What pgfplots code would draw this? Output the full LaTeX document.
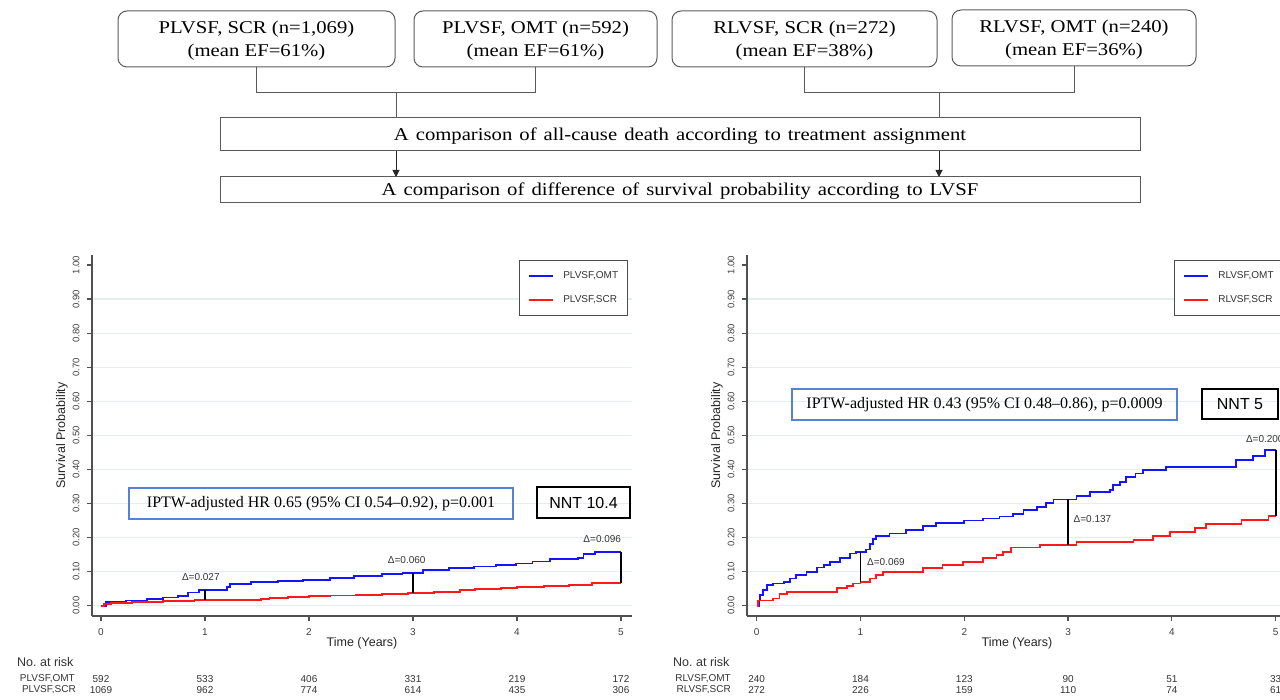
\documentclass[border=0pt]{standalone}
\usepackage{fontspec}
\setmainfont{Liberation Sans}
\newfontfamily\tnr{Liberation Serif}
\newfontfamily\tnrw[FakeStretch=1.15]{Liberation Serif}
\usepackage{pgfplots}
\pgfplotsset{compat=1.18}
\usetikzlibrary{arrows.meta}

\definecolor{kmblue}{RGB}{20,20,255}
\definecolor{kmred}{RGB}{255,25,25}
\definecolor{gridc}{RGB}{228,237,240}
\definecolor{boxblue}{RGB}{84,130,214}
\definecolor{axgray}{RGB}{80,80,80}
\definecolor{fcgray}{RGB}{90,90,90}

\pgfplotsset{
  kmaxis/.style={
    scale only axis, width=540pt, height=361pt, anchor=south west,
    ymin=-0.0302, ymax=1.0294,
    axis x line*=bottom, axis y line*=left,
    axis line style={axgray, line width=1.4pt, -},
    tick style={axgray, line width=1.2pt},
    major tick length=5pt, tick align=outside,
    xtick={0,1,2,3,4,5},
    ytick={0,0.1,0.2,0.3,0.4,0.5,0.6,0.7,0.8,0.9},
    extra y ticks={1}, extra y tick style={grid=none},
    ymajorgrids, grid style={gridc, line width=1.2pt},
    /pgf/number format/assume math mode=true,
    yticklabel style={rotate=90, anchor=south, yshift=4pt,
      font=\fontsize{9.5}{11}\selectfont, text=black!75,
      /pgf/number format/fixed, /pgf/number format/fixed zerofill,
      /pgf/number format/precision=2},
    xticklabel style={font=\fontsize{10}{12}\selectfont, text=black!75, yshift=-4pt},
    xlabel={Time (Years)}, ylabel={Survival Probability},
    label style={font=\fontsize{12.5}{14}\selectfont, text=black!85},
    xlabel style={at={(axis description cs:0.5,-0.075)}, anchor=center},
    ylabel style={at={(axis description cs:-0.0556,0.5)}, anchor=center},
    clip=false,
    legend style={at={(axis description cs:0.7907,0.9861)}, anchor=north west,
      draw=black!70, line width=1pt, font=\fontsize{10}{12}\selectfont,
      text=black!80, row sep=15.5pt, inner xsep=9pt, inner ysep=11.5pt,
      nodes={inner sep=0pt}, cells={anchor=west}},
    legend image code/.code={\draw[#1] (0pt,0pt) -- (24pt,0pt); \path (33pt,0pt);},
  },
  kmline/.style={line width=1.8pt, const plot},
  dline/.style={black, line width=1.8pt, forget plot},
}

\begin{document}
\begin{tikzpicture}[x=1pt,y=1pt]
\useasboundingbox (0,0) rectangle (1280,699);

%% flowchart
\begin{scope}[draw=fcgray, line width=1pt]
  \draw[rounded corners=9pt] (118,688) rectangle (395,632);
  \draw[rounded corners=9pt] (414,688) rectangle (657,632);
  \draw[rounded corners=9pt] (672,688) rectangle (937,632);
  \draw[rounded corners=9pt] (952,689) rectangle (1196,633);
  \draw (256.5,632) -- (256.5,606) -- (535.5,606) -- (535.5,632);
  \draw (396,606) -- (396,581);
  \draw (804.5,632) -- (804.5,606) -- (1074,606) -- (1074,633);
  \draw (939,606) -- (939,581);
  \draw (220,581) rectangle (1140,548);
  \draw (220,522) rectangle (1140,496);
\end{scope}
\draw[black!85, line width=1pt, -{Triangle[length=7pt,width=7pt]}] (396,548) -- (396,522);
\draw[black!85, line width=1pt, -{Triangle[length=7pt,width=7pt]}] (939,548) -- (939,522);
\begin{scope}[every node/.style={font=\tnrw\fontsize{18}{23}\selectfont, align=center}]
  \node at (256.5,658) {PLVSF, SCR (n=1,069)\\(mean EF=61\%)};
  \node at (535.5,658) {PLVSF, OMT (n=592)\\(mean EF=61\%)};
  \node at (804.5,658) {RLVSF, SCR (n=272)\\(mean EF=38\%)};
  \node at (1074,659) {RLVSF, OMT (n=240)\\(mean EF=36\%)};
  \node at (680,563) {\spaceskip=0.39em A comparison of all-cause death according to treatment assignment};
  \node at (680,507.5) {\spaceskip=0.39em A comparison of difference of survival probability according to LVSF};
\end{scope}

%% left KM plot
\begin{axis}[kmaxis, at={(92pt,83pt)}, xmin=-0.0865, xmax=5.106]
  \addplot[kmblue, kmline] coordinates {
    (0,0) (0.045,0.010) (0.24,0.015) (0.44,0.020) (0.60,0.024) (0.74,0.029)
    (0.84,0.039) (0.94,0.046) (1.21,0.056) (1.24,0.063) (1.44,0.069)
    (1.70,0.072) (1.94,0.076) (2.20,0.081) (2.43,0.087) (2.70,0.092)
    (2.90,0.097) (3.10,0.105) (3.35,0.110) (3.59,0.115) (3.80,0.120)
    (3.99,0.124) (4.15,0.130) (4.32,0.136) (4.59,0.140) (4.64,0.151)
    (4.75,0.157) (5.0,0.157)
  };
  \addlegendentry{PLVSF,OMT}
  \addplot[kmred, kmline] coordinates {
    (0,0) (0.03,0.006) (0.10,0.009) (0.30,0.012) (0.60,0.014) (0.90,0.016)
    (1.54,0.020) (1.62,0.023) (1.80,0.026) (2.00,0.028) (2.20,0.030)
    (2.45,0.032) (2.70,0.035) (2.95,0.038) (3.20,0.041) (3.45,0.045)
    (3.60,0.049) (3.85,0.052) (4.00,0.055) (4.26,0.058) (4.50,0.061)
    (4.72,0.067) (5.0,0.067)
  };
  \addlegendentry{PLVSF,SCR}
  \addplot[dline] coordinates {(1,0.016) (1,0.046)};
  \addplot[dline] coordinates {(3,0.038) (3,0.097)};
  \addplot[dline] coordinates {(5,0.067) (5,0.157)};
  \node[font=\fontsize{10}{12}\selectfont, text=black!80] at (axis cs:0.96,0.084) {Δ=0.027};
  \node[font=\fontsize{10}{12}\selectfont, text=black!80] at (axis cs:2.94,0.134) {Δ=0.060};
  \node[font=\fontsize{10}{12}\selectfont, text=black!80] at (axis cs:4.82,0.196) {Δ=0.096};
\end{axis}

%% right KM plot
\begin{axis}[kmaxis, at={(747pt,83pt)}, xmin=-0.0934, xmax=5.109]
  \addplot[kmblue, kmline] coordinates {
    (0,0) (0.02,0.015) (0.03,0.031) (0.064,0.046) (0.096,0.060) (0.16,0.065)
    (0.26,0.070) (0.32,0.080) (0.38,0.090) (0.48,0.100) (0.58,0.112)
    (0.65,0.120) (0.71,0.129) (0.80,0.141) (0.90,0.153) (0.96,0.158)
    (1.05,0.165) (1.09,0.180) (1.12,0.195) (1.15,0.205) (1.28,0.212)
    (1.44,0.223) (1.60,0.233) (1.73,0.243) (2.00,0.250) (2.18,0.256)
    (2.34,0.262) (2.47,0.269) (2.57,0.281) (2.70,0.290) (2.79,0.302)
    (2.86,0.312) (3.08,0.322) (3.21,0.334) (3.40,0.340) (3.43,0.354)
    (3.50,0.364) (3.56,0.378) (3.65,0.388) (3.72,0.398) (3.94,0.408)
    (4.62,0.427) (4.78,0.439) (4.90,0.457) (5.0,0.457)
  };
  \addlegendentry{RLVSF,OMT}
  \addplot[kmred, kmline] coordinates {
    (0,0) (0.016,0.015) (0.16,0.021) (0.22,0.034) (0.29,0.041) (0.77,0.051)
    (0.87,0.058) (0.93,0.065) (1.00,0.070) (1.09,0.080) (1.15,0.090)
    (1.22,0.098) (1.44,0.100) (1.60,0.110) (1.79,0.120) (1.99,0.129)
    (2.18,0.139) (2.31,0.149) (2.37,0.158) (2.45,0.171) (2.73,0.178)
    (3.08,0.188) (3.63,0.193) (3.82,0.204) (3.98,0.217) (4.22,0.227)
    (4.33,0.240) (4.67,0.251) (4.93,0.263) (5.0,0.263)
  };
  \addlegendentry{RLVSF,SCR}
  \addplot[dline] coordinates {(1,0.070) (1,0.158)};
  \addplot[dline] coordinates {(3,0.178) (3,0.312)};
  \addplot[dline] coordinates {(5,0.263) (5,0.457)};
  \node[font=\fontsize{10}{12}\selectfont, text=black!80, anchor=west] at (axis cs:1.03,0.129) {Δ=0.069};
  \node[font=\fontsize{10}{12}\selectfont, text=black!80, anchor=west] at (axis cs:3.02,0.254) {Δ=0.137};
  \node[font=\fontsize{10}{12}\selectfont, text=black!80, anchor=west] at (axis cs:4.68,0.489) {Δ=0.200};
\end{axis}

%% annotation boxes
\draw[boxblue, line width=1.2pt] (129,211) rectangle (513,180);
\node[font=\tnr\fontsize{16}{18}\selectfont] at (321,195.5)
  {IPTW-adjusted HR 0.65 (95\% CI 0.54–0.92), p=0.001};
\draw[black, line width=1.3pt] (537,212) rectangle (630,181);
\node[font=\fontsize{16}{18}\selectfont] at (583.5,196.5) {NNT 10.4};
\draw[boxblue, line width=1.2pt] (792,310) rectangle (1177,279);
\node[font=\tnr\fontsize{16}{18}\selectfont] at (984.5,294.5)
  {IPTW-adjusted HR 0.43 (95\% CI 0.48–0.86), p=0.0009};
\draw[black, line width=1.3pt] (1202,310) rectangle (1278,280);
\node[font=\fontsize{16}{18}\selectfont] at (1240,295) {NNT 5};

%% numbers at risk
\begin{scope}[every node/.style={font=\fontsize{10}{12}\selectfont, text=black!80, inner sep=0pt}]
  \node[font=\fontsize{12.5}{14}\selectfont, anchor=west] at (17,37) {No.\ at risk};
  \node[anchor=east] at (75,20) {PLVSF,OMT};
  \node[anchor=east] at (76,9) {PLVSF,SCR};
  \foreach \t/\a/\b in {0/592/1069,1/533/962,2/406/774,3/331/614,4/219/435,5/172/306}{
    \node at ({101+104*\t},20) {\a};
    \node at ({101+104*\t},9) {\b};
  }
  \node[font=\fontsize{12.5}{14}\selectfont, anchor=west] at (673,37) {No.\ at risk};
  \node[anchor=east] at (731,20) {RLVSF,OMT};
  \node[anchor=east] at (731,9) {RLVSF,SCR};
  \foreach \t/\a/\b in {0/240/272,1/184/226,2/123/159,3/90/110,4/51/74,5/33/61}{
    \node at ({756.7+103.8*\t},20) {\a};
    \node at ({756.7+103.8*\t},9) {\b};
  }
\end{scope}
\end{tikzpicture}
\end{document}
